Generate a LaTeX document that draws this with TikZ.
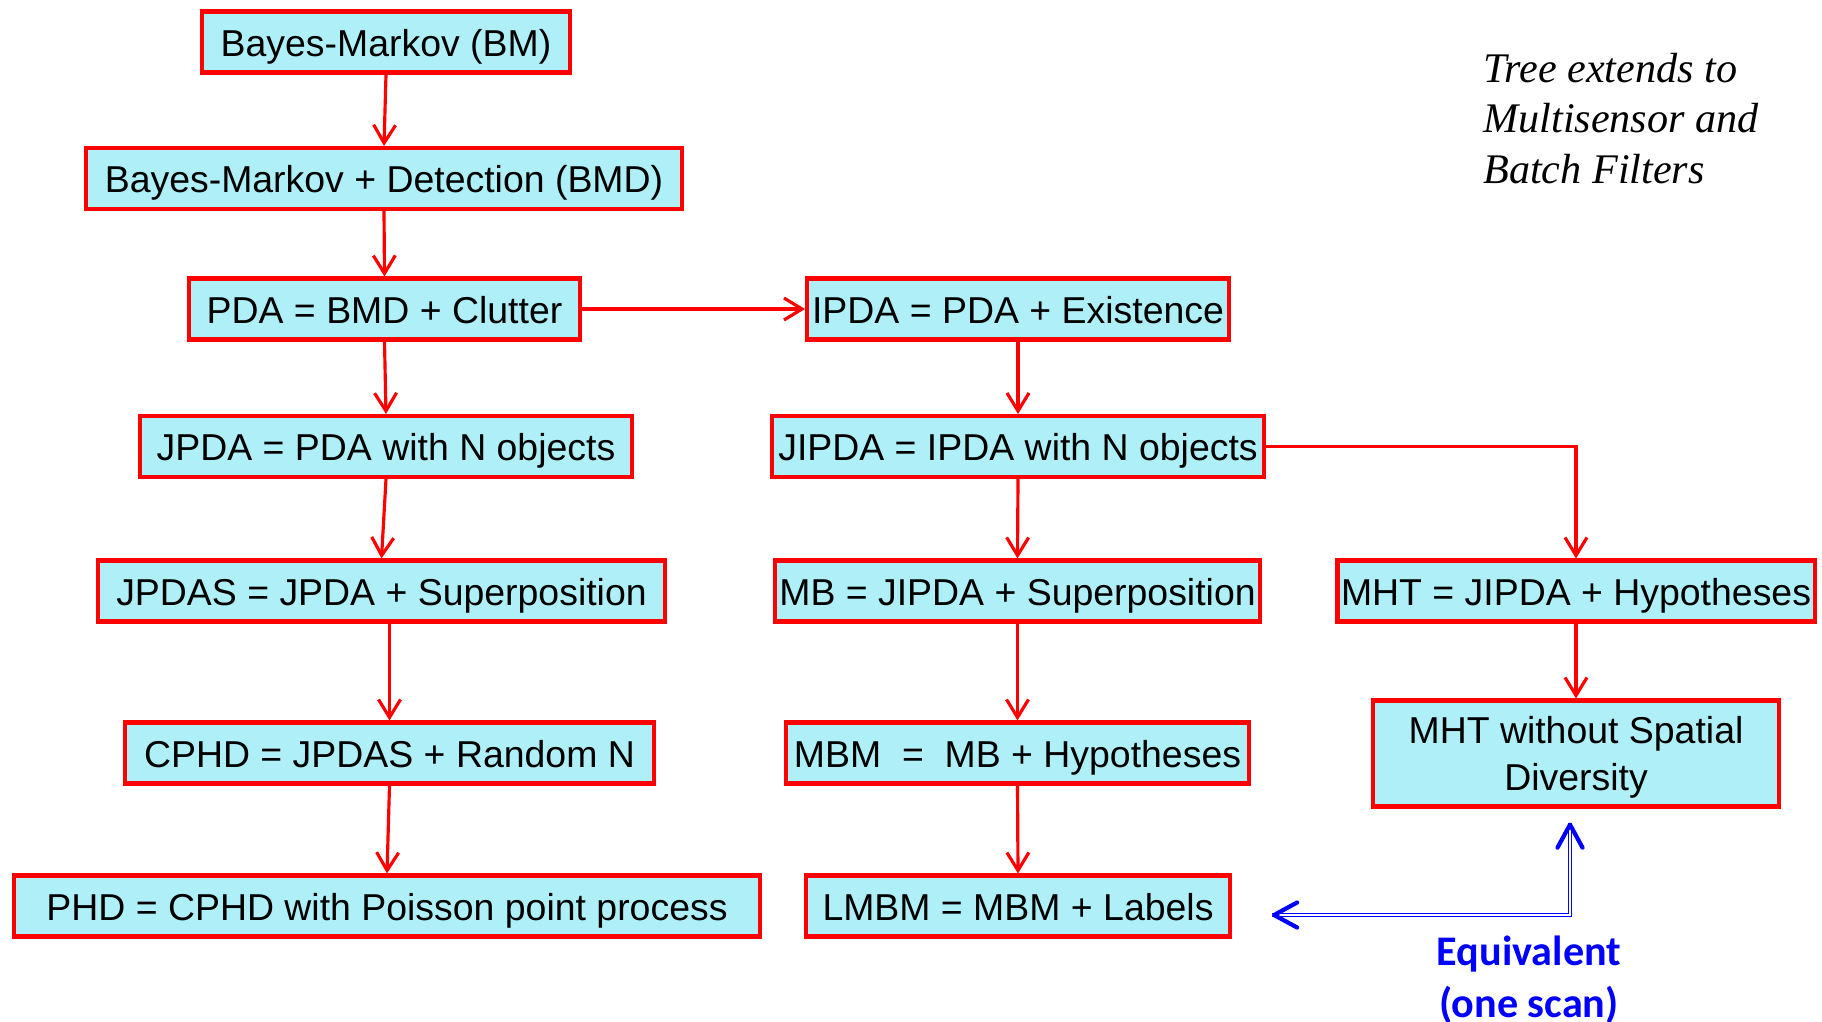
\documentclass[tikz,border=0pt]{standalone}
\usepackage{fontspec}
\setmainfont{Liberation Sans}
\newfontfamily\notefont{Liberation Serif}
\newfontfamily\eqfont{Carlito}
\usetikzlibrary{arrows.meta, positioning, calc}
\definecolor{boxfill}{RGB}{175,240,248}
\definecolor{eqblue}{RGB}{0,0,255}

\begin{document}
\begin{tikzpicture}[x=0.02cm, y=-0.02cm,
      box/.style={draw=red, fill=boxfill, line width=2.3pt, inner sep=2pt,
                  minimum height=1.22cm, font=\fontsize{21.3}{26.4}\selectfont, align=center,
                  text height=20.7pt, text depth=4.3pt},
      box2/.style={box, text height=, text depth=0pt, minimum height=2.12cm},
      arr/.style={-{Straight Barb[length=0.36cm, width=0.44cm]}, draw=red, line width=1.8pt},
      equiv/.style={draw=eqblue, double=white, double distance=1.1pt, line width=0.8pt},
      eqtip/.style={-{Straight Barb[length=0.46cm, width=0.5cm, round]}, draw=eqblue, line width=2.4pt},
      note/.style={font=\notefont\itshape\fontsize{24}{28.5}\selectfont, align=left, inner sep=0pt},
      eqlbl/.style={font=\eqfont\bfseries\fontsize{24}{29.6}\selectfont, text=eqblue, align=center, inner sep=0pt}]

    \useasboundingbox (0,0) rectangle (1822,1021);

    % ---- Left column ----
    \node[box, minimum width=7.36cm]  (bm)    at (386,42)    {Bayes-Markov (BM)};
    \node[box, minimum width=11.92cm] (bmd)   at (384,178.5) {Bayes-Markov + Detection (BMD)};
    \node[box, minimum width=7.82cm]  (pda)   at (384.5,309) {PDA = BMD + Clutter};
    \node[box, minimum width=9.84cm]  (jpda)  at (386,446.5) {JPDA = PDA with N objects};
    \node[box, minimum width=11.34cm] (jpdas) at (381.5,591) {JPDAS = JPDA + Superposition};
    \node[box, minimum width=10.58cm] (cphd)  at (389.5,753) {CPHD = JPDAS + Random N};
    \node[box, minimum width=14.94cm] (phd)   at (387,906)   {PHD = CPHD with Poisson point process};

    % ---- Middle column ----
    \node[box, minimum width=8.44cm]  (ipda)  at (1018,309)    {IPDA = PDA + Existence};
    \node[box, minimum width=9.84cm]  (jipda) at (1018,446.5)  {JIPDA = IPDA with N objects};
    \node[box, minimum width=9.7cm]   (mb)    at (1017.5,591)  {MB = JIPDA + Superposition};
    \node[box, minimum width=9.26cm]  (mbm)   at (1017.5,753)  {MBM \ = \ MB + Hypotheses};
    \node[box, minimum width=8.48cm]  (lmbm)  at (1018,906)    {LMBM = MBM + Labels};

    % ---- Right column ----
    \node[box, minimum width=9.52cm] (mht)  at (1576,591)   {MHT = JIPDA + Hypotheses};
    \node[box2, minimum width=8.12cm] (mhtw) at (1576,753.5) {MHT without Spatial\\Diversity};

    % ---- Tree arrows ----
    \draw[arr] (bm.south) -- (bmd.north);
    \draw[arr] (bmd.south) -- (pda.north);
    \draw[arr] (pda.east) -- (ipda.west);
    \draw[arr] (pda.south) -- (jpda.north);
    \draw[arr] (jpda.south) -- (jpdas.north);
    \draw[arr] (jpdas.south -| cphd.north) -- (cphd.north);
    \draw[arr] (cphd.south) -- (phd.north);

    \draw[arr] (ipda.south) -- (jipda.north);
    \draw[arr] (jipda.south) -- (mb.north);
    \draw[arr] (mb.south) -- (mbm.north);
    \draw[arr] (mbm.south) -- (lmbm.north);

    \draw[arr] (jipda.east) -| (mht.north);
    \draw[arr] (mht.south) -- (mhtw.north);

    % ---- Equivalence (one scan) ----
    \coordinate (eqtop)  at ($(mhtw.south)+(-6,14)$);
    \coordinate (eqleft) at ($(lmbm.east)+(40,9)$);
    \draw[equiv] (eqtop) |- (eqleft);
    % solid tips on top of the double line
    \draw[eqtip] ($(eqtop)+(0,1)$) -- (eqtop);
    \draw[eqtip] ($(eqleft)+(1,0)$) -- (eqleft);
    \node[eqlbl, anchor=base] (eqtxt) at (1529,1017) {Equivalent\\(one scan)};

    % ---- Side note ----
    \node[note, anchor=base west] (ext) at (1483,183) {Tree extends to\\Multisensor and\\Batch Filters};

\end{tikzpicture}
\end{document}
